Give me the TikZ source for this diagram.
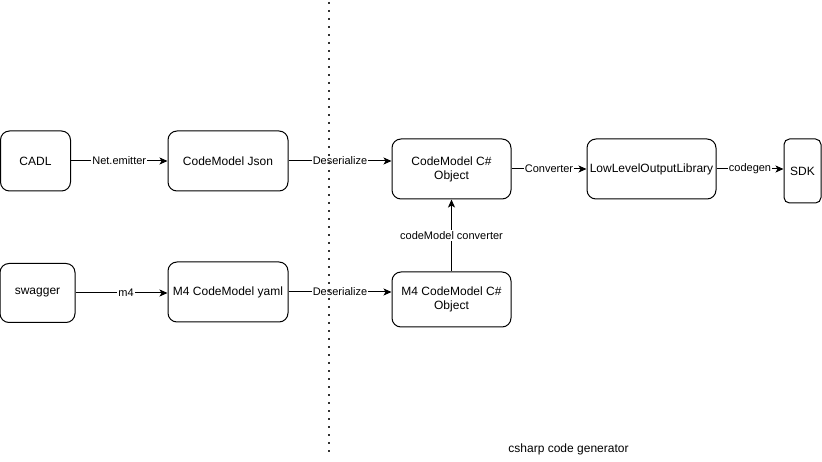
\documentclass[tikz,border=0pt]{standalone}
\usepackage{fontspec}
\setmainfont{Liberation Sans}
\usetikzlibrary{arrows.meta}
\begin{document}
\begin{tikzpicture}[x=1pt,y=-1pt,
  box/.style={draw=black,line width=1pt,rounded corners=9pt,fill=white,align=center,
    inner sep=0pt,font=\fontsize{12}{14}\selectfont},
  conn/.style={draw=black,line width=1pt,-{Stealth[length=8pt,width=7pt,inset=2pt]}},
  lbl/.style={fill=white,inner sep=1pt,font=\fontsize{11}{13}\selectfont},
  sep/.style={draw=black!80,line width=2pt,dash pattern=on 2pt off 6pt}]
\useasboundingbox (0,0) rectangle (822,462);
\node[box,minimum width=70pt,minimum height=60pt] (cadl) at (35.5,161) {CADL};
\node[box,minimum width=120pt,minimum height=60pt] (json) at (228,161) {CodeModel Json};
\node[box,minimum width=75pt,minimum height=59pt] (swag) at (37.5,293) {swagger};
\node[box,minimum width=120pt,minimum height=60pt] (yaml) at (228,292) {M4 CodeModel yaml};
\node[box,minimum width=119pt,minimum height=60pt] (cobj) at (451.5,169) {CodeModel C\#\\Object};
\node[box,minimum width=119pt,minimum height=55pt] (mobj) at (451.5,299.5) {M4 CodeModel C\#\\Object};
\node[box,minimum width=129pt,minimum height=60pt] (low) at (651.5,169) {LowLevelOutputLibrary};
\node[box,rounded corners=5.5pt,minimum width=37pt,minimum height=64pt] (sdk) at (802.5,171) {SDK};
\node[font=\fontsize{12}{14}\selectfont,inner sep=0pt] (title) at (568.5,449) {csharp code generator};

\draw[conn] (cadl.east) -- node[lbl] {Net.emitter} (json.west);
\draw[conn] (json.east) -- node[lbl] {Deserialize} (json.east -| cobj.west);
\draw[conn] (swag.east) -- node[lbl,pos=0.55] {m4} (swag.east -| yaml.west);
\draw[conn] (yaml.east) -- node[lbl] {Deserialize} (yaml.east -| mobj.west);
\draw[conn] (mobj.north) -- node[lbl] {codeModel converter} (cobj.south);
\draw[conn] (cobj.east) -- node[lbl] {Converter} (low.west);
\draw[conn] (low.east) -- node[lbl] {codegen} (low.east -| sdk.west);

\coordinate (dtop) at (328.5,2);
\coordinate (dbot) at (328.5,452);
\draw[sep] (dtop) -- (dbot);
\end{tikzpicture}
\end{document}
